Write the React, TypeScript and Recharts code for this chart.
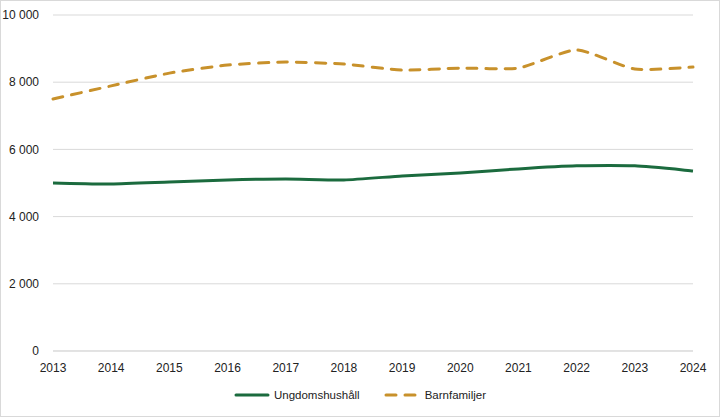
import { LineChart, Line, XAxis, YAxis, CartesianGrid, Legend } from 'recharts'

const years = ['2013', '2014', '2015', '2016', '2017', '2018', '2019', '2020', '2021', '2022', '2023', '2024']
const ungdom = [5000, 4970, 5030, 5090, 5120, 5090, 5210, 5300, 5420, 5510, 5510, 5360]
const barn = [7500, 7890, 8270, 8510, 8600, 8540, 8360, 8420, 8420, 8960, 8390, 8450]
const yTicks = [0, 2000, 4000, 6000, 8000, 10000]

const GREEN = '#1b6b3e'
const GOLD = '#c8912b'
const FONT = '"Liberation Sans", Arial, sans-serif'

const data = years.map((y, i) => ({ year: y, ungdom: ungdom[i], barn: barn[i] }))

const fmt = (v: number) => String(v).replace(/\B(?=(\d{3})+(?!\d))/g, ' ')

// light smoothing, close to Excel's smoothed line
const excelCurve = (ctx: any) => {
  let pts: [number, number][] = []
  const k = 1 / 10
  return {
    areaStart() {},
    areaEnd() {},
    lineStart() { pts = [] },
    point(x: number, y: number) { pts.push([x, y]) },
    lineEnd() {
      if (!pts.length) return
      ctx.moveTo(pts[0][0], pts[0][1])
      for (let i = 0; i < pts.length - 1; i++) {
        const p0 = pts[i - 1] || pts[i]
        const p1 = pts[i]
        const p2 = pts[i + 1]
        const p3 = pts[i + 2] || p2
        ctx.bezierCurveTo(
          p1[0] + (p2[0] - p0[0]) * k, p1[1] + (p2[1] - p0[1]) * k,
          p2[0] - (p3[0] - p1[0]) * k, p2[1] - (p3[1] - p1[1]) * k,
          p2[0], p2[1]
        )
      }
    },
  }
}

const LegendContent = () => (
  <div style={{ display: 'flex', justifyContent: 'center', alignItems: 'center', fontFamily: FONT, fontSize: 11.5, color: '#222', paddingTop: 8 }}>
    <svg width={36} height={8} style={{ marginRight: 4 }}>
      <line x1={2} y1={4} x2={34} y2={4} stroke={GREEN} strokeWidth={3} strokeLinecap="round" />
    </svg>
    <span style={{ marginRight: 24 }}>Ungdomshushåll</span>
    <svg width={36} height={8} style={{ marginRight: 5 }}>
      <line x1={2} y1={4} x2={34} y2={4} stroke={GOLD} strokeWidth={3} strokeDasharray="10 9" strokeLinecap="round" />
    </svg>
    <span>Barnfamiljer</span>
  </div>
)

export default function App() {
  return (
    <div style={{ position: 'fixed', top: 0, left: 0, width: 720, height: 417, background: '#fff', boxSizing: 'border-box', border: '1px solid #d9d9d9' }}>
      <LineChart width={718} height={415} data={data} margin={{ top: 14, right: 26, left: 0, bottom: 4 }}>
        <CartesianGrid vertical={false} stroke="#d9d9d9" />
        <XAxis
          dataKey="year"
          axisLine={{ stroke: '#d9d9d9' }}
          tickLine={false}
          height={30}
          tick={{ fontFamily: FONT, fontSize: 12, fill: '#222' }}
          tickMargin={6}
          interval={0}
        />
        <YAxis
          width={52}
          domain={[0, 10000]}
          ticks={yTicks}
          axisLine={false}
          tickLine={false}
          tickFormatter={fmt}
          tick={{ fontFamily: FONT, fontSize: 12, fill: '#222' }}
          tickMargin={8}
        />
        <Legend verticalAlign="bottom" height={31} wrapperStyle={{ left: 0, width: 718 }} content={<LegendContent />} />
        <Line dataKey="ungdom" name="Ungdomshushåll" type={excelCurve as any} stroke={GREEN} strokeWidth={3} dot={false} isAnimationActive={false} />
        <Line dataKey="barn" name="Barnfamiljer" type={excelCurve as any} stroke={GOLD} strokeWidth={3} strokeDasharray="10 9" strokeLinecap="round" dot={false} isAnimationActive={false} />
      </LineChart>
    </div>
  )
}
